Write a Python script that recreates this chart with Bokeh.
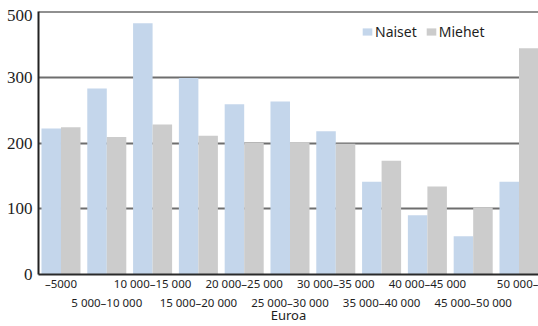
import numpy as np
from bokeh.plotting import figure
from bokeh.models import (Range1d, FixedTicker, LinearAxis, Span, Legend,
                          LegendItem, ColumnDataSource)
from bokeh.transform import dodge
from bokeh.embed import file_html
from bokeh.resources import INLINE

# ---- data ----
categories = ["–5000", "5 000–10 000", "10 000–15 000", "15 000–20 000",
              "20 000–25 000", "25 000–30 000", "30 000–35 000", "35 000–40 000",
              "40 000–45 000", "45 000–50 000", "50 000–"]
naiset = [222, 283, 382, 299, 259, 263, 218, 141, 90, 58, 141]
miehet = [224, 209, 228, 211, 200, 201, 199, 173, 134, 102, 344]
y_ticks = [0, 100, 200, 300, 400]
y_tick_labels = ["0", "100", "200", "300", "500"]
series_names = ["Naiset", "Miehet"]
series_colors = ["#c4d6eb", "#cccccc"]
x_title = "Euroa"

BAR_W = 0.426
TXT = "#1e1e1e"
FRAME_H = 263
TOP_LABEL_SHIFT_PX = 4   # top tick label sits slightly below its line

idx = [int(i) for i in np.arange(len(categories))]
src = ColumnDataSource(dict(x=idx, naiset=naiset, miehet=miehet))

p = figure(width=538, height=326, output_backend="svg", toolbar_location=None,
           x_range=Range1d(-0.491, len(categories) - 0.574),
           y_range=Range1d(y_ticks[0], y_ticks[-1]),
           min_border_left=38, min_border_right=0, min_border_top=11,
           min_border_bottom=52, x_axis_location=None)
p.outline_line_color = None
p.background_fill_color = "white"
p.border_fill_color = "white"

r1 = p.vbar(x=dodge("x", -BAR_W / 2, range=p.x_range), top="naiset", width=BAR_W,
            source=src, fill_color=series_colors[0], line_color=None)
r2 = p.vbar(x=dodge("x", BAR_W / 2, range=p.x_range), top="miehet", width=BAR_W,
            source=src, fill_color=series_colors[1], line_color=None)

# grid
p.xgrid.visible = False
p.ygrid.ticker = FixedTicker(ticks=y_ticks[1:-1])
p.ygrid.grid_line_color = "#6e6e6e"
p.ygrid.grid_line_width = 2

# top line
p.add_layout(Span(location=y_ticks[-1], dimension="width", line_color="#222222",
                  line_width=2))

# y axis (top label placed a few px below its line so it stays on the canvas)
top_pos = y_ticks[-1] - TOP_LABEL_SHIFT_PX * (y_ticks[-1] - y_ticks[0]) / FRAME_H
label_pos = y_ticks[:-1] + [top_pos]
ya = p.yaxis[0]
ya.ticker = FixedTicker(ticks=label_pos)
ya.major_label_overrides = {t: l for t, l in zip(label_pos, y_tick_labels)}
ya.axis_line_color = "#222222"
ya.axis_line_width = 2
ya.major_tick_line_color = None
ya.minor_tick_line_color = None
ya.major_tick_out = 0
ya.major_tick_in = 0
ya.minor_tick_out = 0
ya.major_label_standoff = 6
ya.major_label_text_font = "Liberation Sans Narrow"
ya.major_label_text_font_size = "17px"
ya.major_label_text_color = TXT

# x axes: two rows of labels
ticker = FixedTicker(ticks=idx)
ax1 = LinearAxis(ticker=ticker,
                 major_label_overrides={i: (c if i % 2 == 0 else " ")
                                        for i, c in zip(idx, categories)})
ax2 = LinearAxis(ticker=ticker,
                 major_label_overrides={i: (c if i % 2 == 1 else " ")
                                        for i, c in zip(idx, categories)},
                 axis_label=x_title)
for ax in (ax1, ax2):
    ax.major_tick_line_color = None
    ax.minor_tick_line_color = None
    ax.major_tick_out = 0
    ax.major_tick_in = 0
    ax.minor_tick_out = 0
    ax.minor_tick_in = 0
    ax.major_label_text_font = "Noto Sans"
    ax.major_label_text_font_size = "11.5px"
    ax.major_label_text_color = TXT
ax1.axis_line_color = "#2a2a2a"
ax1.axis_line_width = 2
ax1.major_label_standoff = 1
ax2.axis_line_color = None
ax2.major_label_standoff = 1
ax2.axis_label_standoff = -7
ax2.axis_label_text_font = "Noto Sans"
ax2.axis_label_text_font_style = "normal"
ax2.axis_label_text_font_size = "13px"
ax2.axis_label_text_color = TXT
p.add_layout(ax1, "below")
p.add_layout(ax2, "below")

legend = Legend(items=[LegendItem(label=series_names[0], renderers=[r1]),
                       LegendItem(label=series_names[1], renderers=[r2])],
                orientation="horizontal", location=(323, 233),
                glyph_width=12, glyph_height=9, label_standoff=2, spacing=8,
                padding=0, margin=0, border_line_color=None,
                background_fill_alpha=0, label_text_font="Noto Sans",
                label_text_font_size="14px", label_height=17,
                label_text_color=TXT)
p.add_layout(legend)

open("out.html", "w").write(file_html(p, INLINE))
